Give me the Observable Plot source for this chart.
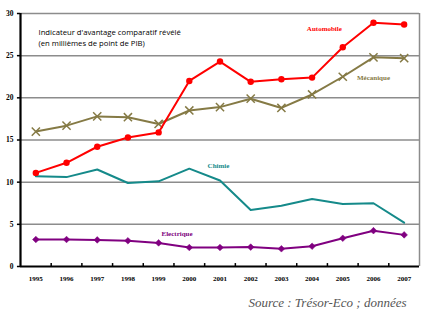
<!DOCTYPE html>
<html>
<head>
<meta charset="utf-8">
<script src="https://cdn.jsdelivr.net/npm/d3@7"></script>
<script src="https://cdn.jsdelivr.net/npm/@observablehq/plot@0.6"></script>
<style>
body { margin: 0; background: #fff; }
</style>
</head>
<body>
<div id="chart"></div>
<script>
const years = [1995, 1996, 1997, 1998, 1999, 2000, 2001, 2002, 2003, 2004, 2005, 2006, 2007];
const automobile = [11.1, 12.3, 14.2, 15.3, 15.9, 22.0, 24.3, 21.9, 22.2, 22.4, 26.0, 28.9, 28.7];
const mecanique  = [16.0, 16.7, 17.8, 17.7, 16.9, 18.5, 18.9, 19.9, 18.8, 20.4, 22.5, 24.8, 24.7];
const chimie     = [10.7, 10.6, 11.5, 9.9, 10.1, 11.6, 10.2, 6.7, 7.2, 8.0, 7.4, 7.5, 5.2];
const electrique = [3.2, 3.2, 3.15, 3.05, 2.8, 2.25, 2.25, 2.3, 2.1, 2.4, 3.35, 4.25, 3.75];
const yTicks = [0, 5, 10, 15, 20, 25, 30];
const seriesNames = ["Automobile", "Mécanique", "Chimie", "Electrique"];
const seriesColors = ["#ff0000", "#857a45", "#158a8a", "#800080"];
const labelX = [2004.4, 2006.0, 2000.95, 1999.6];
const labelY = [28.2, 22.4, 11.9, 3.9];
const titleLines = ["Indicateur d'avantage comparatif révélé", "(en millièmes de point de PIB)"];
const sourceText = "Source : Trésor-Eco ; données";

const seriesValues = [automobile, mecanique, chimie, electrique];
const data = seriesNames.flatMap((s, i) => years.map((y, j) => ({series: s, year: y, value: seriesValues[i][j]})));
const of = s => data.filter(d => d.series === s);
const labels = seriesNames.map((s, i) => ({series: s, x: labelX[i], y: labelY[i], color: seriesColors[i]}));
const boundaries = years.slice(0, -1).map(y => y + 0.5);

const serif = "'Liberation Serif', 'DejaVu Serif', serif";
const sans = "'Open Sans', sans-serif";

const chart = Plot.plot({
  width: 431,
  height: 321,
  marginLeft: 20,
  marginRight: 12,
  marginTop: 13,
  marginBottom: 55,
  style: {background: "#fff", fontFamily: serif},
  x: {type: "linear", domain: [1994.5, 2007.5], axis: null},
  y: {type: "linear", domain: [0, 30], axis: null},
  marks: [
    Plot.ruleY(yTicks.slice(1), {stroke: "#8c8c8c", strokeWidth: 1.5}),
    Plot.ruleX([2007.5], {stroke: "#8c8c8c", strokeWidth: 1.5}),
    // axes
    Plot.ruleX(boundaries, {y1: 0, y2: 0.35, stroke: "#000", strokeWidth: 1.5}),
    Plot.ruleY(yTicks, {x1: 1994.5, x2: 1994.4, stroke: "#000", strokeWidth: 1.5}),
    Plot.ruleX([1994.5], {stroke: "#000", strokeWidth: 2.2}),
    Plot.ruleY([0], {stroke: "#000", strokeWidth: 2.2}),
    Plot.text(yTicks, {x: 1994.5, y: d => d, text: d => String(d), dx: -7, textAnchor: "end", fontSize: 7.5, fontWeight: "bold", fill: "#000", fontFamily: serif}),
    Plot.text(years, {x: d => d, y: 0, text: d => String(d), dy: 12, fontSize: 7, fontWeight: "bold", fill: "#000", fontFamily: serif}),
    // series
    Plot.line(of("Chimie"), {x: "year", y: "value", stroke: seriesColors[2], strokeWidth: 2}),
    Plot.line(of("Electrique"), {x: "year", y: "value", stroke: seriesColors[3], strokeWidth: 2}),
    Plot.dot(of("Electrique"), {x: "year", y: "value", symbol: "diamond2", r: 3, fill: seriesColors[3], stroke: seriesColors[3], strokeWidth: 0.5}),
    Plot.line(of("Mécanique"), {x: "year", y: "value", stroke: seriesColors[1], strokeWidth: 2}),
    Plot.dot(of("Mécanique"), {x: "year", y: "value", symbol: "times", r: 3.8, stroke: seriesColors[1], strokeWidth: 1.5}),
    Plot.line(of("Automobile"), {x: "year", y: "value", stroke: seriesColors[0], strokeWidth: 2}),
    Plot.dot(of("Automobile"), {x: "year", y: "value", r: 3.2, fill: seriesColors[0]}),
    // series labels
    Plot.text(labels, {x: "x", y: "y", text: "series", fill: "color", fontSize: 7, fontWeight: "bold", fontFamily: serif}),
    // title
    Plot.text([titleLines[0]], {frameAnchor: "top-left", text: d => d, dx: 18, dy: 19, textAnchor: "start", lineAnchor: "middle", fontSize: 7.7, fill: "#000", fontFamily: sans}),
    Plot.text([titleLines[1]], {frameAnchor: "top-left", text: d => d, dx: 18, dy: 30, textAnchor: "start", lineAnchor: "middle", fontSize: 7.7, fill: "#000", fontFamily: sans}),
    // source
    Plot.text([sourceText], {frameAnchor: "bottom-right", text: d => d, dx: -13, dy: 40, textAnchor: "end", fontSize: 13, fontStyle: "italic", fill: "#555", fontFamily: serif})
  ]
});
document.getElementById("chart").append(chart);
</script>
</body>
</html>
